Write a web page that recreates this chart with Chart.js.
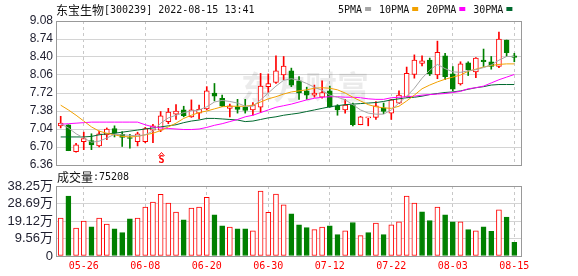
<!DOCTYPE html>
<html>
<head>
<meta charset="utf-8">
<script src="https://cdn.jsdelivr.net/npm/chart.js@4.4.0/dist/chart.umd.min.js"></script>
<style>
  html, body { margin: 0; padding: 0; background: #fff; }
  #wrap { position: relative; width: 578px; height: 276px; overflow: hidden; }
  canvas { position: absolute; left: 0; }
  #priceChart { top: 0; }
  #volChart { top: 170px; }
</style>
</head>
<body>
<div id="wrap">
  <canvas id="priceChart" width="578" height="180"></canvas>
  <canvas id="volChart" width="578" height="106"></canvas>
</div>
<script>
// --- data ---
const stockName = "东宝生物";
const stockInfo = "[300239] 2022-08-15 13:41";

const dates = [
  "05-23", "05-24", "05-25", "05-26", "05-27", "05-30", "05-31", "06-01", "06-02", "06-06",
  "06-07", "06-08", "06-09", "06-10", "06-13", "06-14", "06-15", "06-16", "06-17", "06-20",
  "06-21", "06-22", "06-23", "06-24", "06-27", "06-28", "06-29", "06-30", "07-01", "07-04",
  "07-05", "07-06", "07-07", "07-08", "07-11", "07-12", "07-13", "07-14", "07-15", "07-18",
  "07-19", "07-20", "07-21", "07-22", "07-25", "07-26", "07-27", "07-28", "07-29", "08-01",
  "08-02", "08-03", "08-04", "08-05", "08-08", "08-09", "08-10", "08-11", "08-12", "08-15"
];

const opens = [
  7.10, 7.12, 6.61, 6.80, 6.82, 6.72, 6.93, 7.05, 6.94, 6.87,
  6.80, 6.80, 7.02, 7.02, 7.18, 7.32, 7.40, 7.27, 7.34, 7.42,
  7.72, 7.62, 7.43, 7.46, 7.45, 7.40, 7.45, 7.84, 7.92, 8.06,
  8.14, 7.95, 7.76, 7.68, 7.64, 7.76, 7.48, 7.40, 7.49, 7.12,
  7.25, 7.26, 7.44, 7.34, 7.53, 7.64, 8.07, 8.28, 8.34, 8.06,
  8.42, 8.08, 7.89, 8.29, 8.12, 8.34, 8.31, 8.22, 8.72, 8.42
];
const highs = [
  7.28, 7.12, 6.77, 6.98, 6.95, 7.00, 7.06, 7.10, 6.99, 6.94,
  6.98, 7.07, 7.13, 7.37, 7.43, 7.50, 7.47, 7.59, 7.49, 7.84,
  7.90, 7.68, 7.51, 7.60, 7.60, 7.54, 8.09, 8.08, 8.42, 8.41,
  8.19, 8.03, 7.83, 7.87, 7.95, 7.85, 7.50, 7.60, 7.53, 7.28,
  7.26, 7.56, 7.53, 7.60, 7.76, 8.21, 8.44, 8.42, 8.38, 8.70,
  8.47, 8.22, 8.31, 8.31, 8.39, 8.55, 8.41, 8.87, 8.72, 8.47
];
const lows = [
  7.06, 6.63, 6.60, 6.65, 6.65, 6.70, 6.84, 6.89, 6.71, 6.68,
  6.72, 6.78, 6.78, 6.99, 7.14, 7.22, 7.27, 7.26, 7.23, 7.40,
  7.57, 7.46, 7.27, 7.34, 7.34, 7.30, 7.35, 7.73, 7.90, 7.97,
  7.84, 7.60, 7.60, 7.64, 7.62, 7.45, 7.30, 7.34, 7.10, 7.12,
  7.10, 7.22, 7.33, 7.22, 7.52, 7.64, 8.00, 8.23, 8.05, 7.99,
  7.97, 7.76, 7.87, 8.05, 8.01, 8.22, 8.17, 8.20, 8.41, 8.31
];
const closes = [
  7.15, 6.63, 6.74, 6.86, 6.74, 6.95, 7.04, 6.96, 6.88, 6.86,
  6.95, 7.05, 7.10, 7.29, 7.36, 7.38, 7.29, 7.40, 7.41, 7.76,
  7.66, 7.47, 7.48, 7.41, 7.39, 7.49, 7.85, 7.90, 8.14, 8.23,
  7.87, 7.72, 7.68, 7.72, 7.73, 7.45, 7.40, 7.49, 7.12, 7.27,
  7.25, 7.48, 7.37, 7.59, 7.68, 8.09, 8.34, 8.33, 8.08, 8.49,
  8.03, 7.79, 8.27, 8.16, 8.38, 8.31, 8.22, 8.74, 8.48, 8.39
];

// volume in 万
const volumes = [
  20.7, 32.8, 15.3, 19.1, 16.0, 20.7, 17.5, 14.9, 12.8, 20.3,
  20.7, 26.7, 29.4, 33.7, 28.9, 24.0, 19.8, 26.2, 26.7, 32.1,
  22.5, 16.5, 15.8, 14.9, 14.9, 13.8, 35.5, 23.8, 33.9, 27.9,
  23.1, 17.1, 15.5, 14.4, 15.8, 16.5, 11.7, 13.8, 18.3, 11.1,
  12.8, 18.0, 11.7, 17.1, 18.7, 32.8, 28.9, 24.1, 19.3, 26.7,
  22.5, 18.7, 18.7, 14.4, 13.8, 16.0, 13.5, 25.2, 21.3, 7.5208
];

const ma5 = [
  7.14, 7.06, 6.95, 6.87, 6.79, 6.81, 6.87, 6.94, 6.93, 6.92,
  6.91, 6.93, 7.00, 7.15, 7.25, 7.30, 7.35, 7.38, 7.40, 7.46,
  7.55, 7.58, 7.56, 7.53, 7.47, 7.47, 7.59, 7.72, 7.85, 7.96,
  7.99, 7.96, 7.90, 7.83, 7.77, 7.68, 7.64, 7.59, 7.50, 7.40,
  7.34, 7.32, 7.32, 7.40, 7.53, 7.66, 7.81, 8.00, 8.15, 8.26,
  8.18, 8.12, 8.11, 8.14, 8.16, 8.20, 8.25, 8.34, 8.41, 8.41
];
const ma10 = [
  7.49, 7.40, 7.30, 7.19, 7.08, 7.00, 6.96, 6.93, 6.90, 6.89,
  6.90, 6.93, 6.96, 7.01, 7.08, 7.15, 7.24, 7.30, 7.35, 7.38,
  7.42, 7.46, 7.47, 7.47, 7.47, 7.49, 7.55, 7.61, 7.65, 7.70,
  7.74, 7.76, 7.78, 7.81, 7.82, 7.81, 7.78, 7.72, 7.64, 7.57,
  7.50, 7.46, 7.44, 7.43, 7.47, 7.57, 7.68, 7.80, 7.87, 7.93,
  7.98, 8.02, 8.06, 8.13, 8.17, 8.21, 8.24, 8.26, 8.27, 8.27
];
const ma20 = [
  7.13, 7.14, 7.15, 7.16, 7.17, 7.17, 7.17, 7.17, 7.17, 7.17,
  7.17, 7.12, 7.08, 7.06, 7.05, 7.04, 7.03, 7.03, 7.04, 7.07,
  7.11, 7.14, 7.18, 7.22, 7.27, 7.30, 7.35, 7.40, 7.45, 7.48,
  7.51, 7.55, 7.59, 7.62, 7.64, 7.65, 7.65, 7.64, 7.64, 7.63,
  7.61, 7.60, 7.60, 7.63, 7.64, 7.65, 7.66, 7.68, 7.69, 7.70,
  7.71, 7.73, 7.75, 7.80, 7.82, 7.85, 7.91, 7.97, 8.02, 8.07
];
const ma30 = [
  6.89, 6.89, 6.89, 6.89, 6.90, 6.93, 6.95, 6.96, 6.98, 7.00,
  7.02, 7.04, 7.06, 7.08, 7.10, 7.12, 7.16, 7.19, 7.21, 7.24,
  7.24, 7.23, 7.22, 7.21, 7.18, 7.19, 7.22, 7.25, 7.27, 7.30,
  7.32, 7.34, 7.37, 7.40, 7.43, 7.46, 7.48, 7.50, 7.51, 7.52,
  7.53, 7.54, 7.56, 7.59, 7.61, 7.63, 7.64, 7.66, 7.69, 7.71,
  7.73, 7.74, 7.76, 7.79, 7.82, 7.84, 7.87, 7.88, 7.88, 7.88
];

const priceTicks = [6.36, 6.70, 7.04, 7.38, 7.72, 8.06, 8.40, 8.74, 9.08];
const volTicks = [0, 9.56, 19.12, 28.69, 38.25];
const volTickLabels = ["0", "9.56万", "19.12万", "28.69万", "38.25万"];
const labelIdx = [3, 11, 19, 27, 35, 43, 51, 59];
const signalIdx = [13];

// --- colors / layout ---
const UP = "#ff0000";
const DOWN = "#008000";
const X_MIN = -0.61, X_MAX = 60;
const MONO = '"DejaVu Sans Mono", "Liberation Mono", monospace';
const CJK = '"Noto Sans CJK SC", sans-serif';

const maLines = [
  { label: "5PMA", data: ma5, color: "#a6a6a6" },
  { label: "10PMA", data: ma10, color: "#f2a100" },
  { label: "20PMA", data: ma20, color: "#ff00ff" },
  { label: "30PMA", data: ma30, color: "#00692f" },
];

const pts = arr => arr.map((v, i) => ({ x: i, y: v }));
const candleUp = closes.map((c, i) => c >= opens[i]);
const volUp = closes.map((c, i) => i === 0 || c >= closes[i - 1]);

// plot border
const frame = {
  id: "frame",
  afterDatasetsDraw(chart) {
    const { ctx, chartArea: a } = chart;
    ctx.save();
    ctx.strokeStyle = "#999";
    ctx.lineWidth = 1;
    ctx.strokeRect(a.left + 0.5, a.top + 0.5, a.right - a.left - 1, a.bottom - a.top);
    ctx.restore();
  }
};

// title, legend, watermark, signal marker
const priceDecor = {
  id: "priceDecor",
  beforeDatasetsDraw(chart) {
    const { ctx } = chart;
    ctx.save();
    ctx.fillStyle = "rgba(0,0,0,0.08)";
    ctx.font = 'bold 32px ' + CJK;
    ctx.textAlign = "center";
    ctx.textBaseline = "middle";
    ctx.fillText("东方财富", 305, 87);
    ctx.restore();
  },
  afterDraw(chart) {
    const { ctx, scales } = chart;
    ctx.save();
    ctx.textBaseline = "middle";
    ctx.fillStyle = "#111";
    ctx.font = "12px " + CJK;
    ctx.fillText(stockName, 56, 10);
    const w = ctx.measureText(stockName).width;
    ctx.font = "10px " + MONO;
    ctx.fillText(stockInfo, 56 + w, 10);

    // legend
    let lx = 338;
    chart.data.datasets.filter(d => d.type === "line").forEach(d => {
      ctx.fillStyle = "#111";
      ctx.font = "10px " + MONO;
      ctx.fillText(d.label, lx, 10);
      lx += ctx.measureText(d.label).width + 3;
      ctx.fillStyle = d.borderColor;
      ctx.fillRect(lx, 7, 6, 4);
      lx += 6 + 8;
    });

    // S signal
    ctx.strokeStyle = UP;
    ctx.fillStyle = UP;
    ctx.lineWidth = 1;
    signalIdx.forEach(i => {
      const x = Math.round(scales.x.getPixelForValue(i)) + 0.5;
      ctx.beginPath();
      ctx.moveTo(x - 3, 156);
      ctx.lineTo(x, 152.5);
      ctx.lineTo(x + 3, 156);
      ctx.stroke();
      ctx.font = "bold 10px " + MONO;
      ctx.textAlign = "center";
      ctx.fillText("S", x, 160.5);
    });
    ctx.restore();
  }
};

const volDecor = {
  id: "volDecor",
  afterDraw(chart) {
    const { ctx } = chart;
    ctx.save();
    ctx.textBaseline = "middle";
    ctx.fillStyle = "#111";
    ctx.font = "12px " + CJK;
    ctx.fillText("成交量", 57, 7);
    const w = ctx.measureText("成交量").width;
    ctx.font = "10px " + MONO;
    ctx.fillText(":" + Math.round(volumes[volumes.length - 1] * 10000), 57 + w, 7);
    ctx.restore();
  }
};

const xAxis = (showLabels) => ({
  type: "linear",
  min: X_MIN,
  max: X_MAX,
  offset: false,
  afterBuildTicks: axis => { axis.ticks = labelIdx.map(v => ({ value: v })); },
  afterFit: axis => { axis.height = showLabels ? 20 : 0; },
  ticks: {
    display: showLabels,
    autoSkip: false,
    maxRotation: 0,
    padding: 4,
    color: UP,
    font: { family: MONO, size: 10 },
    callback: v => dates[v],
  },
  grid: { color: "#c8c8c8", drawTicks: false, offset: false },
  border: { display: false, dash: [3, 3] },
});

// --- price chart ---
new Chart(document.getElementById("priceChart"), {
  type: "bar",
  data: {
    datasets: [
      {
        label: "wick",
        data: dates.map((d, i) => ({ x: i, y: [lows[i], highs[i]] })),
        backgroundColor: candleUp.map(u => (u ? UP : DOWN)),
        barThickness: 1,
        order: 2,
      },
      {
        label: "body",
        data: dates.map((d, i) => ({ x: i, y: [opens[i], closes[i]] })),
        backgroundColor: candleUp.map(u => (u ? "#fff" : DOWN)),
        borderColor: candleUp.map(u => (u ? UP : DOWN)),
        borderWidth: 1,
        borderSkipped: false,
        barThickness: 5,
        minBarLength: 1,
        order: 1,
      },
      ...maLines.map(m => ({
        type: "line",
        label: m.label,
        data: pts(m.data),
        borderColor: m.color,
        borderWidth: 1,
        pointRadius: 0,
        fill: false,
        tension: 0,
        order: 0,
      })),
    ],
  },
  options: {
    responsive: false,
    animation: false,
    events: [],
    datasets: { bar: { grouped: false } },
    layout: { padding: { left: 0, right: 56, top: 21, bottom: 15 } },
    plugins: { legend: { display: false }, tooltip: { enabled: false } },
    scales: {
      x: xAxis(false),
      y: {
        min: 6.36,
        max: 9.08,
        beginAtZero: false,
        afterBuildTicks: axis => { axis.ticks = priceTicks.map(v => ({ value: v })); },
        afterFit: axis => { axis.width = 56; },
        ticks: {
          autoSkip: false,
          padding: 3,
          color: "#1e1e2e",
          font: { family: '"Liberation Sans", Arial, sans-serif', size: 12 },
          callback: v => v.toFixed(2),
        },
        grid: { color: "#d4d4d4", drawTicks: false },
        border: { display: false },
      },
    },
  },
  plugins: [priceDecor, frame],
});

// --- volume chart ---
new Chart(document.getElementById("volChart"), {
  type: "bar",
  data: {
    datasets: [{
      label: "成交量",
      data: volumes.map((v, i) => ({ x: i, y: v })),
      backgroundColor: volUp.map(u => (u ? "#fff" : DOWN)),
      borderColor: volUp.map(u => (u ? UP : DOWN)),
      borderWidth: 1,
      borderSkipped: false,
      barThickness: 5,
    }],
  },
  options: {
    responsive: false,
    animation: false,
    events: [],
    layout: { padding: { left: 0, right: 56, top: 16, bottom: 0 } },
    plugins: { legend: { display: false }, tooltip: { enabled: false } },
    scales: {
      x: xAxis(true),
      y: {
        min: 0,
        max: 38.25,
        afterBuildTicks: axis => { axis.ticks = volTicks.map(v => ({ value: v })); },
        afterFit: axis => { axis.width = 56; },
        ticks: {
          autoSkip: false,
          padding: 3,
          color: "#1e1e2e",
          font: { family: '"Liberation Sans", Arial, "Noto Sans CJK SC", sans-serif', size: 13 },
          callback: (v, i) => volTickLabels[i],
        },
        grid: { color: "#d4d4d4", drawTicks: false },
        border: { display: false },
      },
    },
  },
  plugins: [volDecor, frame],
});
</script>
</body>
</html>
